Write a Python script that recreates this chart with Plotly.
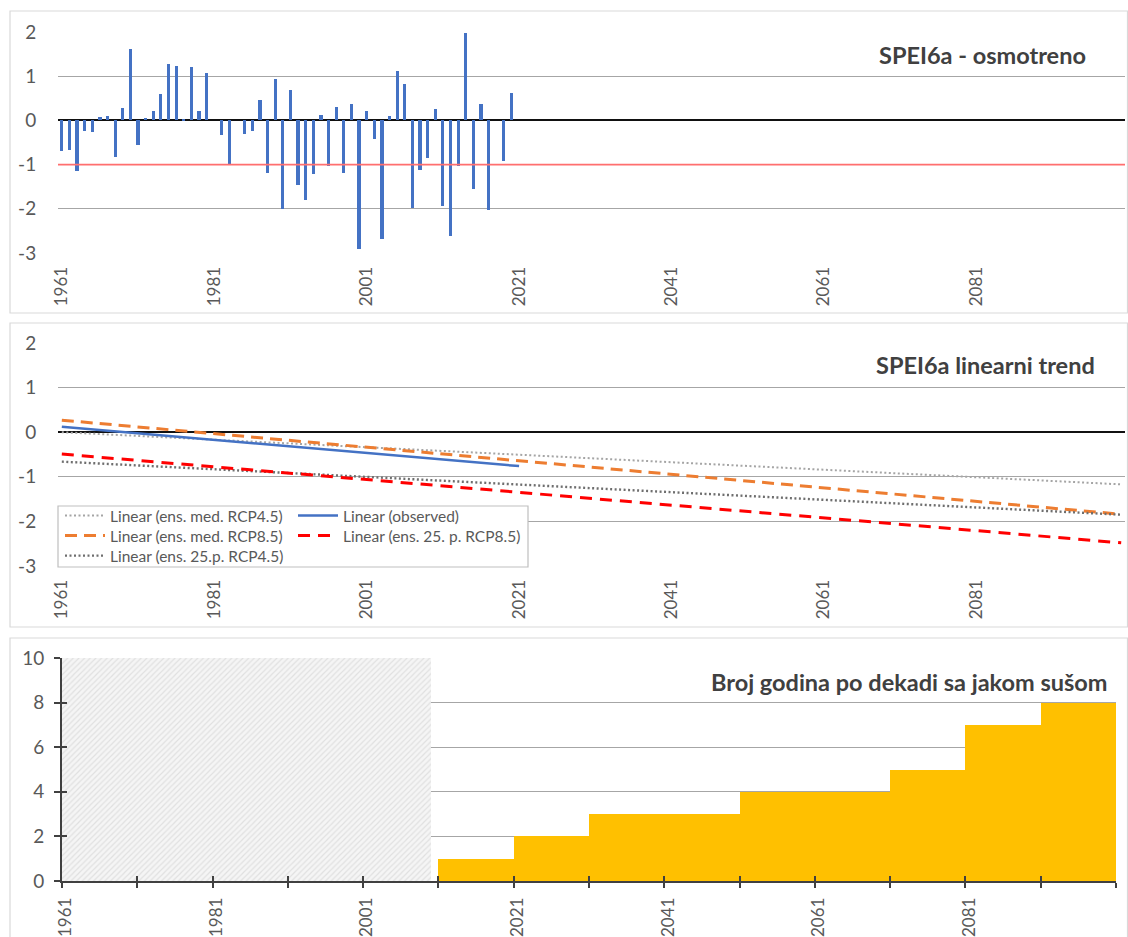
import plotly.graph_objects as go

W, H = 1128, 937

# ---------------- data ----------------
obs_years = list(range(1961, 2021))
spei6a_obs = [
    -0.69, -0.68, -1.15, -0.25, -0.27, 0.08, 0.10, -0.83, 0.28, 1.61,
    -0.56, 0.05, 0.21, 0.59, 1.28, 1.23, 0.02, 1.20, 0.22, 1.07,
    0.00, -0.32, -0.98, 0.00, -0.30, -0.25, 0.47, -1.20, 0.93, -2.00,
    0.68, -1.47, -1.79, -1.21, 0.12, -1.03, 0.30, -1.18, 0.37, -2.92,
    0.22, -0.41, -2.69, 0.11, 1.11, 0.82, -1.99, -1.13, -0.84, 0.26,
    -1.93, -2.61, -1.03, 1.98, -1.55, 0.38, -2.03, 0.00, -0.92, 0.62,
]
drought_threshold = -1.0

trend_years_obs = [1961, 2021]
trend_years_proj = [1961, 2100]
trend_observed = [0.12, -0.76]
trend_med_rcp45 = [0.00, -1.17]
trend_med_rcp85 = [0.27, -1.84]
trend_p25_rcp45 = [-0.66, -1.85]
trend_p25_rcp85 = [-0.49, -2.48]

decade_starts = [2011, 2021, 2031, 2041, 2051, 2061, 2071, 2081, 2091]
drought_years_per_decade = [1, 2, 3, 3, 4, 4, 5, 7, 8]
observed_period = [1961, 2009]
hatch_height = 10

x_tick_years = [1961, 1981, 2001, 2021, 2041, 2061, 2081]
x_tick_labels = [str(y) for y in x_tick_years]
spei_ticks = [-3, -2, -1, 0, 1, 2]
spei_tick_labels = ["-3", "-2", "-1", "0", "1", "2"]
count_ticks = [0, 2, 4, 6, 8, 10]
first_year, last_year = 1961, 2100

# ---------------- helpers ----------------
def px(x):
    return x / W

def py(y):
    return 1 - y / H

FONT = "Lato"
TICK_COLOR = "#595959"
GRID = "#A6A6A6"
xr = [first_year - 0.5, last_year + 0.5]
boundaries = [y - 0.5 for y in range(first_year, last_year + 1, 10)] + [last_year + 0.5]

fig = go.Figure()

# ---- top panel: observed SPEI6a bars ----
fig.add_trace(go.Bar(x=obs_years, y=spei6a_obs, width=0.42,
                     marker=dict(color="#4472C4", line=dict(width=0)),
                     xaxis="x", yaxis="y", showlegend=False))
fig.add_shape(type="line", xref="x domain", x0=0, x1=1, yref="y",
              y0=drought_threshold, y1=drought_threshold,
              line=dict(color="#FF6F6F", width=1.6), layer="above")

# ---- middle panel: linear trends (each legend entry placed like the Excel legend) ----
legend_slots = {}
def trend(name, xs, ys, color, dash, width, legend, lx, lyc):
    fig.add_trace(go.Scatter(x=xs, y=ys, mode="lines", name=name,
                             line=dict(color=color, dash=dash, width=width),
                             xaxis="x2", yaxis="y2", legend=legend))
    legend_slots[legend] = (lx, lyc)

trend("Linear (ens. med. RCP4.5)", trend_years_proj, trend_med_rcp45, "#A5A5A5", "2px,2.5px", 2, "legend", 60, 515)
trend("Linear (ens. med. RCP8.5)", trend_years_proj, trend_med_rcp85, "#ED7D31", "12px,7px", 3, "legend2", 60, 535)
trend("Linear (ens. 25.p. RCP4.5)", trend_years_proj, trend_p25_rcp45, "#6E6E6E", "2px,2.5px", 2.4, "legend3", 60, 555)
trend("Linear (observed)", trend_years_obs, trend_observed, "#4472C4", "solid", 2.5, "legend4", 293, 515)
trend("Linear (ens. 25. p. RCP8.5)", trend_years_proj, trend_p25_rcp85, "#FF0000", "12px,8px", 3, "legend5", 293, 535)

# ---- bottom panel: drought years per decade ----
fig.add_trace(go.Bar(
    x=[(observed_period[0] + observed_period[1]) / 2],
    y=[hatch_height],
    width=[observed_period[1] - observed_period[0] + 1],
    marker=dict(color="#F4F4F4", line=dict(width=0),
                pattern=dict(shape="/", fgcolor="#CCCCCC", bgcolor="#F5F5F5",
                             size=4, solidity=0.3)),
    xaxis="x3", yaxis="y3", showlegend=False))
fig.add_trace(go.Bar(x=[d + 4.5 for d in decade_starts], y=drought_years_per_decade,
                     width=10, marker=dict(color="#FFC000", line=dict(width=0)),
                     xaxis="x3", yaxis="y3", showlegend=False))
# helper traces for crossing tick marks
fig.add_trace(go.Scatter(x=[], y=[], xaxis="x4", yaxis="y3", showlegend=False))
fig.add_trace(go.Scatter(x=[], y=[], xaxis="x3", yaxis="y4", showlegend=False))

ytickfont = dict(family=FONT, size=19, color=TICK_COLOR)
xtickfont = dict(family=FONT, size=17, color=TICK_COLOR)

def xcat(domain, anchor):
    return dict(domain=domain, anchor=anchor, range=xr, tickmode="array",
                tickvals=x_tick_years, ticktext=x_tick_labels, tickangle=-90,
                ticks="outside", ticklen=6, tickcolor="rgba(0,0,0,0)",
                showgrid=False, zeroline=False, showline=False, tickfont=xtickfont,
                automargin=False)

def yspei(domain, anchor):
    return dict(domain=domain, anchor=anchor, range=[-3, 2], tickmode="array",
                tickvals=spei_ticks, ticktext=spei_tick_labels,
                gridcolor=GRID, gridwidth=1.3,
                zeroline=True, zerolinecolor="#111111", zerolinewidth=1.6,
                ticks="outside", ticklen=17, tickcolor="rgba(0,0,0,0)",
                showline=False, tickfont=ytickfont, automargin=False)

legends = {}
for key, (lx, lyc) in legend_slots.items():
    legends[key] = dict(x=px(lx), y=py(lyc - 16), xanchor="left", yanchor="top",
                        bgcolor="rgba(0,0,0,0)", borderwidth=0, tracegroupgap=0,
                        font=dict(family=FONT, size=15.5, color=TICK_COLOR), itemwidth=40)

fig.update_layout(
    width=W, height=H,
    margin=dict(l=0, r=0, t=0, b=0, pad=0),
    paper_bgcolor="white", plot_bgcolor="rgba(0,0,0,0)",
    font=dict(family=FONT, color=TICK_COLOR),
    bargap=0, barmode="overlay",
    xaxis=xcat([px(58), px(1125)], "y"),
    yaxis=yspei([py(253), py(32)], "x"),
    xaxis2=xcat([px(58), px(1125)], "y2"),
    yaxis2=yspei([py(566), py(343)], "x2"),
    xaxis3=dict(domain=[px(62), px(1116)], anchor="y3", range=xr, tickmode="array",
                tickvals=x_tick_years, ticktext=x_tick_labels, tickangle=-90,
                ticks="", ticklabelstandoff=8,
                minor=dict(tickmode="array", tickvals=boundaries, ticks="outside",
                           ticklen=5, tickwidth=1.5, tickcolor="#404040"),
                showgrid=False, zeroline=False, showline=True, linecolor="#404040",
                linewidth=1.6, tickfont=xtickfont, automargin=False),
    xaxis4=dict(overlaying="x3", anchor="y3", range=xr, tickmode="array",
                tickvals=boundaries, ticks="inside", ticklen=5, tickwidth=1.5,
                tickcolor="#404040", showticklabels=False, showgrid=False,
                zeroline=False, showline=False, automargin=False),
    yaxis3=dict(domain=[py(881), py(658)], anchor="x3", range=[0, 10], tickmode="array",
                tickvals=count_ticks, gridcolor=GRID, gridwidth=1.3, zeroline=False,
                showline=True, linecolor="#404040", linewidth=1.6,
                ticks="outside", ticklen=6, tickwidth=1.5, tickcolor="#404040",
                ticklabelstandoff=6, tickfont=ytickfont, automargin=False),
    yaxis4=dict(overlaying="y3", anchor="x3", side="left", range=[0, 10], tickmode="array",
                tickvals=count_ticks, ticks="inside", ticklen=5, tickwidth=1.5,
                tickcolor="#404040", showticklabels=False, showgrid=False,
                zeroline=False, showline=False, automargin=False),
    **legends,
)

# panel frames
for y0, y1 in [(11, 313), (323, 627), (638, 945)]:
    fig.add_shape(type="rect", xref="paper", yref="paper",
                  x0=px(10), x1=px(1127.5), y0=py(y1), y1=py(y0),
                  line=dict(color="#D9D9D9", width=1.2), fillcolor="rgba(0,0,0,0)",
                  layer="below")
# legend box
fig.add_shape(type="rect", xref="paper", yref="paper",
              x0=px(58), x1=px(528), y0=py(567), y1=py(506),
              line=dict(color="#BFBFBF", width=1.2), fillcolor="white", layer="above")

titles = [
    ("SPEI6a - osmotreno", 1088, 55),
    ("SPEI6a linearni trend", 1097, 365),
    ("Broj godina po dekadi sa jakom sušom", 1110, 682),
]
for text, xr_px, yc in titles:
    fig.add_annotation(text=f"<b>{text}</b>", xref="paper", yref="paper",
                       x=px(xr_px), y=py(yc), xanchor="right", yanchor="middle",
                       showarrow=False, font=dict(family=FONT, size=23.5, color="#404040"))

fig.write_html("out.html", config={"displayModeBar": False},
               post_script="document.body.style.margin='0px';document.body.style.overflow='hidden';")
